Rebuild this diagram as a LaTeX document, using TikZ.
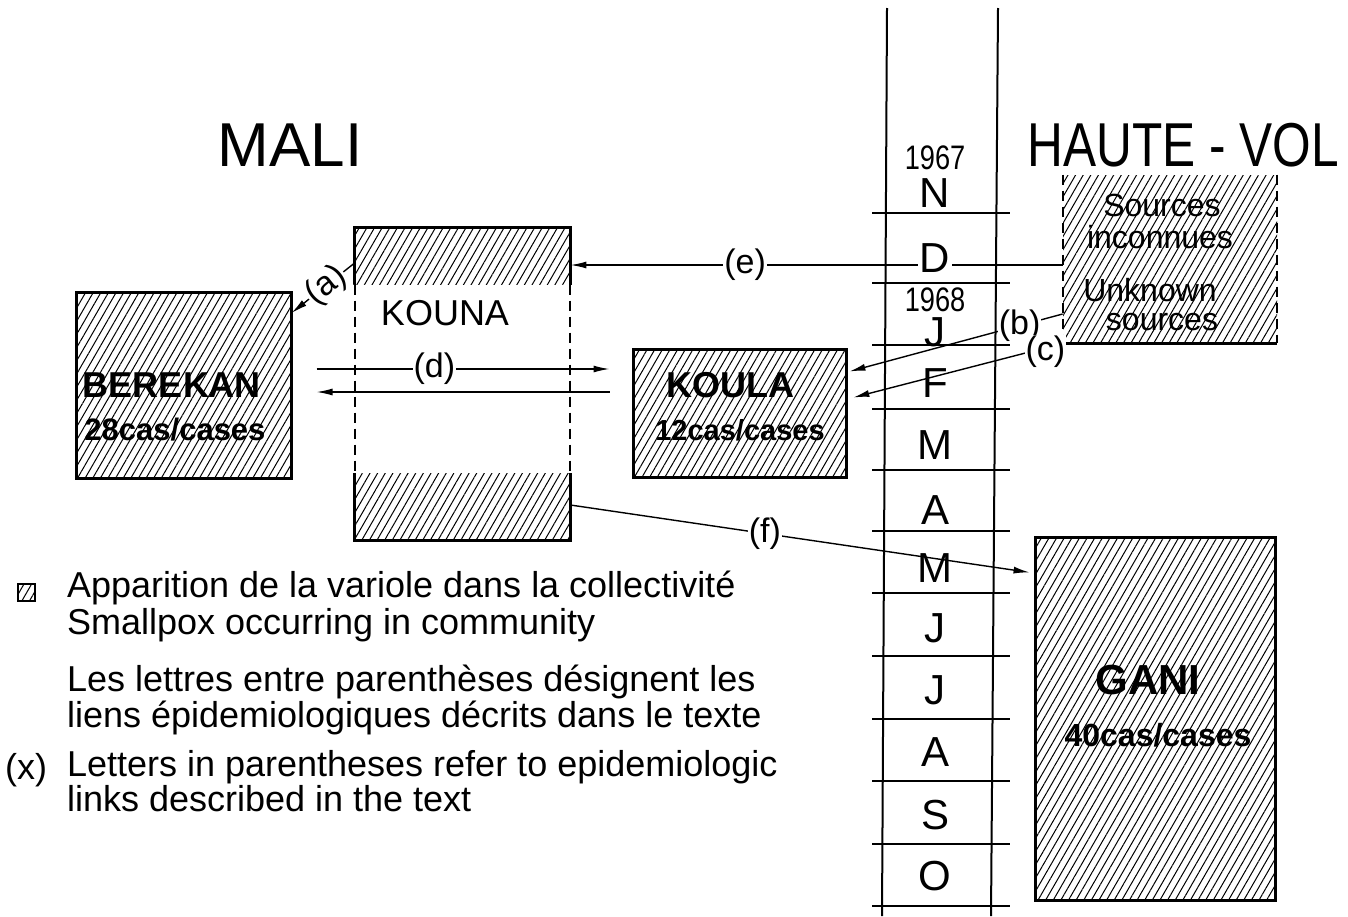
\documentclass[tikz,border=0pt]{standalone}
\usepackage{fontspec}
\setmainfont{Liberation Sans}
\newfontfamily\narrowfont{Liberation Sans}[FakeStretch=0.8]
\usetikzlibrary{arrows.meta, patterns.meta, calc}
\tikzset{
  hatched/.style={pattern={Lines[angle=60,distance=3.3pt,line width=0.5pt]}},
  village/.style={rectangle, draw, line width=1.5pt, hatched, inner sep=0pt},
  zone/.style={rectangle, inner sep=0pt},
  vname/.style={font=\bfseries\fontsize{18}{18}\selectfont},
  vcases/.style={font=\bfseries\fontsize{15.5}{15.5}\selectfont},
  lien/.style={-{Latex[length=8pt,width=3.5pt]}, line width=0.7pt},
  lbl/.style={font=\fontsize{17}{17}\selectfont, fill=white, inner sep=0.5pt},
  month/.style={font=\fontsize{21}{21}\selectfont, inner sep=1pt},
  year/.style={font=\narrowfont\fontsize{17}{17}\selectfont, inner sep=1pt},
  legend/.style={anchor=west, align=left},
}

\begin{document}
\begin{tikzpicture}[x=0.5pt, y=-0.5pt]
\useasboundingbox (0,0) rectangle (1348,916);
% titles
\node[font=\fontsize{31}{31}\selectfont] (mali) at (290,145) {MALI};
\node[font=\narrowfont\fontsize{31}{31}\selectfont] (hvolta) at (1183,145) {HAUTE - VOL};
% villages
\node[village, minimum width=107.5pt, minimum height=93pt] (berekan) at (183.5,385) {};
\node[vname] (nberekan) at (172,385) {BEREKAN};
\node[vcases] (cberekan) at (175,430) {28cas/cases};
\node[zone, minimum width=107.5pt, minimum height=156pt] (kouna) at (462.5,384) {};
\fill[hatched] (kouna.north west) rectangle ($(kouna.north east)+(0,57)$);
\fill[hatched] ($(kouna.south west)+(0,-67)$) rectangle (kouna.south east);
\draw[line width=1.5pt] ($(kouna.north west)+(0,57)$) -- (kouna.north west) -- (kouna.north east) -- ++(0,57);
\draw[line width=1.5pt] ($(kouna.south west)+(0,-67)$) -- (kouna.south west) -- (kouna.south east) -- ++(0,-67);
\draw[line width=1pt, dash pattern=on 5pt off 3pt] ($(kouna.north west)+(0,57)$) -- ($(kouna.south west)+(0,-67)$);
\draw[line width=1pt, dash pattern=on 5pt off 3pt] ($(kouna.north east)+(0,57)$) -- ($(kouna.south east)+(0,-67)$);
\node[font=\fontsize{18}{18}\selectfont] (nkouna) at (445,313) {KOUNA};
\node[village, minimum width=106.5pt, minimum height=64pt] (koula) at (739.5,413) {};
\node[vname] (nkoula) at (730,385) {KOULA};
\node[vcases, font=\bfseries\fontsize{14.5}{14.5}\selectfont] (ckoula) at (740,430) {12cas/cases};
\node[zone, hatched, minimum width=107pt, minimum height=84pt] (sources) at (1170,259) {};
\draw[line width=1pt, dash pattern=on 5pt off 3pt] (sources.north west) -- (sources.south west);
\draw[line width=1pt, dash pattern=on 5pt off 3pt] (sources.north east) -- (sources.south east);
\draw[line width=1.5pt] (sources.south west) -- (sources.south east);
\node[font=\fontsize{16}{16}\selectfont] (src1) at (1162,205) {Sources};
\node[font=\fontsize{16}{16}\selectfont] (src2) at (1160,237) {inconnues};
\node[font=\fontsize{16}{16}\selectfont] (src3) at (1150,290) {Unknown};
\node[font=\fontsize{16}{16}\selectfont] (src4) at (1162,322) {sources};
\node[village, minimum width=120pt, minimum height=181.5pt] (gani) at (1155,718.5) {};
\node[vname, font=\bfseries\fontsize{21}{21}\selectfont] (ngani) at (1148,680) {GANI};
\node[vcases, font=\bfseries\fontsize{16}{16}\selectfont] (cgani) at (1158,735) {40cas/cases};
% link (e) goes under the D of the time scale
\draw[lien] (sources.west |- 0,265) -- node[lbl, pos=0.645] {(e)} (kouna.east |- 0,265);
% time scale
\draw[line width=1pt] (887,8) -- (882,916);
\draw[line width=1pt] (998,8) -- (991,916);
\foreach \y in {213,283,345,409,470,531,593,656,719,781,844,906}
  \draw[line width=1.3pt] (872,\y) -- (1010,\y);
\node[year] (y67) at (935,158) {1967};
\node[year] (y68) at (935,300) {1968};
\node[month, fill=white] (mD) at (935,258) {D};
\foreach \m/\y [count=\i] in {N/193,J/332,F/383,M/445,A/510,M/568,J/628,J/690,A/752,S/815,O/876}
  \node[month] (m\i) at (935,\y) {\m};
% links
\draw[lien] (kouna.west |- 0,263) -- node[lbl, sloped, pos=0.45] {(a)} (berekan.east |- 0,313);
\draw[lien, shorten <=12.5pt, shorten >=11pt] (berekan.east |- 0,369) -- node[lbl, pos=0.42] {(d)} (koula.west |- 0,369);
\draw[lien, shorten <=11pt, shorten >=12.5pt] (koula.west |- 0,392) -- (berekan.east |- 0,392);
\draw[lien, shorten >=1pt] (sources.west |- 0,314) -- node[lbl, pos=0.2] {(b)} (koula.east |- 0,372);
\draw[lien, shorten >=3pt] (sources.south west) -- node[lbl, pos=0.08, yshift=-2pt] {(c)} (koula.east |- 0,399);
\draw[lien, shorten >=2pt] (kouna.east |- 0,505) -- node[lbl, pos=0.42] {(f)} (gani.west |- 0,573);
% legend
\node[village, line width=1pt, minimum size=8.5pt] (keysq) at (26,592) {};
\node[legend, font=\fontsize{18}{18.5}\selectfont] (leg1) at (60,606) {Apparition de la variole dans la collectivité\\Smallpox occurring in community};
\node[font=\fontsize{18}{18}\selectfont] (keyx) at (26,770) {(x)};
\node[legend, font=\fontsize{18}{15.5}\selectfont] (leg2) at (60,700) {Les lettres entre parenthèses désignent les\\liens épidemiologiques décrits dans le texte};
\node[legend, font=\fontsize{18}{16}\selectfont] (leg3) at (60,781) {Letters in parentheses refer to epidemiologic\\links described in the text};
\end{tikzpicture}
\end{document}
